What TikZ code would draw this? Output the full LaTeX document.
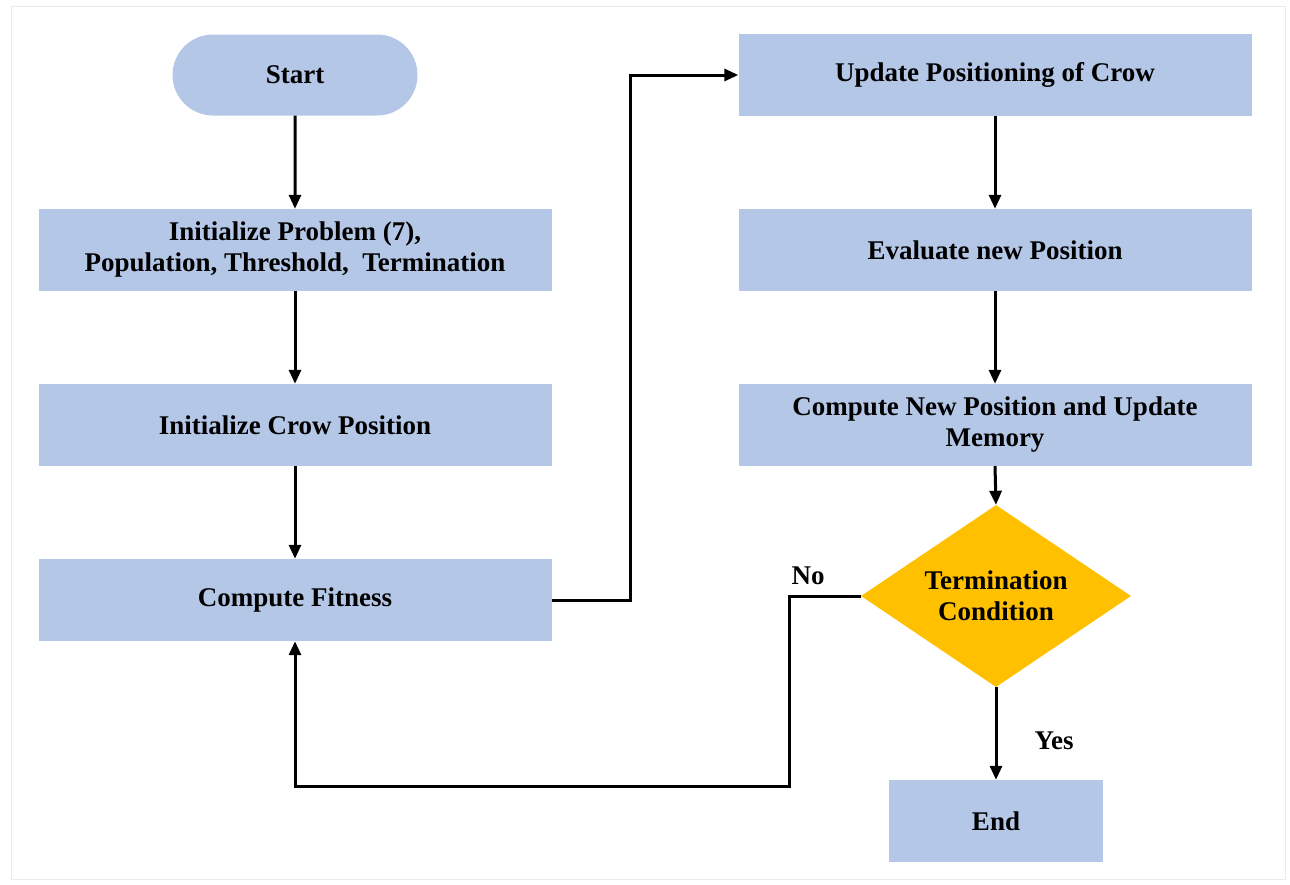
\documentclass[tikz,border=0pt]{standalone}
\usepackage{fontspec}
\setmainfont{Liberation Serif}
\usetikzlibrary{shapes.geometric,arrows.meta}
\definecolor{boxblue}{RGB}{180,199,231}
\definecolor{gold}{RGB}{255,192,0}
\tikzset{
  box/.style={fill=boxblue,draw=none,minimum width=513pt,minimum height=82pt,inner sep=0pt,align=center,font=\fontsize{27}{31}\selectfont\bfseries},
  term/.style={box,rounded rectangle,minimum width=245pt,minimum height=81pt},
  endbox/.style={box,minimum width=214pt},
  decision/.style={diamond,fill=gold,draw=none,minimum width=270pt,minimum height=182pt,inner sep=0pt,aspect=1.5,align=center,font=\fontsize{27}{31}\selectfont\bfseries},
  conn/.style={line width=3pt,-{Triangle[length=14pt,width=12pt]}},
  lbl/.style={font=\fontsize{27}{31}\selectfont\bfseries,inner sep=0pt}
}
\usetikzlibrary{shapes.misc}
\begin{document}
\begin{tikzpicture}[x=1pt,y=-1pt]
\useasboundingbox (0,0) rectangle (1290,884);
\draw[black!8,line width=1pt] (11,6) rectangle (1285,879);
\node[term] (start) at (295,75) {Start};
\node[box] (init) at (295,250) {Initialize Problem (7),\\Population, Threshold,\ \ Termination};
\node[box] (crow) at (295,425) {Initialize Crow Position};
\node[box] (fit) at (295,600) {Compute Fitness};
\node[box] (upd) at (995,75) {Update Positioning of Crow};
\node[box] (eval) at (995,250) {Evaluate new Position};
\node[box] (comp) at (995,425) {Compute New Position and Update\\Memory};
\node[decision] (cond) at (996,596) {Termination\\Condition};
\node[endbox] (end) at (996,821) {End};
\node[lbl] (no) at (808,576) {No};
\node[lbl] (yes) at (1054,741) {Yes};
\coordinate (j1) at (630,600);
\coordinate (j2) at (789,596);
\coordinate (j3) at (789,786);
\draw[conn] (start) -- (init);
\draw[conn] (init) -- (crow);
\draw[conn] (crow) -- (fit);
\draw[conn] (fit.east) -- (j1) |- (upd.west);
\draw[conn] (upd) -- (eval);
\draw[conn] (eval) -- (comp);
\draw[conn] (comp.south) -- (cond.north);
\draw[conn] (cond.south) -- (end.north);
\draw[conn] (cond.west) -- (j2) -- (j3) -| (fit.south);
\end{tikzpicture}
\end{document}
